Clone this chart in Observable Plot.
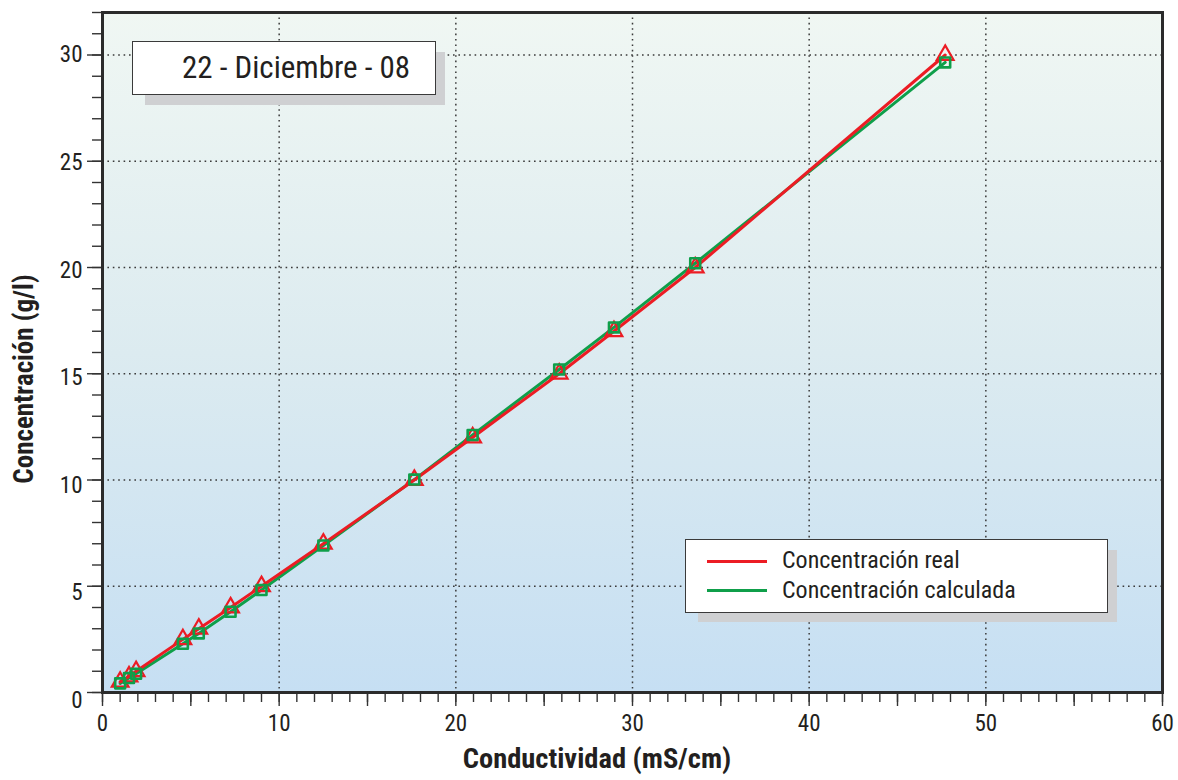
<!DOCTYPE html>
<html>
<head>
<meta charset="utf-8">
<script src="https://cdn.jsdelivr.net/npm/d3@7"></script>
<script src="https://cdn.jsdelivr.net/npm/@observablehq/plot@0.6"></script>
<style>
  html, body { margin: 0; padding: 0; background: #fff; }
  #wrap { position: relative; width: 1178px; height: 780px; font-family: 'Liberation Sans Narrow', 'Arial Narrow', 'Roboto Condensed', 'Liberation Sans', Arial, sans-serif; color: #231f20; }
  .shadow { position: absolute; background: #cfd0d2; }
  .box { position: absolute; background: #fff; border: 1.5px solid #3a3a3a; box-sizing: border-box; }
  .lbl { position: absolute; white-space: nowrap; }
</style>
</head>
<body>
<div id="wrap"></div>
<script>
// ---- data ----
const conductividad = [1.0, 1.5, 1.9, 4.55, 5.45, 7.25, 9.0, 12.5, 17.65, 20.95, 25.85, 28.95, 33.55, 47.7];
const concentracionReal = [0.5, 0.75, 1.0, 2.5, 3.0, 4.0, 5.0, 7.0, 10.0, 12.0, 15.0, 17.0, 20.0, 30.0];
const concentracionCalculada = [0.43, 0.68, 0.88, 2.29, 2.78, 3.8, 4.82, 6.92, 10.02, 12.12, 15.2, 17.18, 20.2, 29.65];
const xTickLabels = [0, 10, 20, 30, 40, 50, 60];
const yTickLabels = [0, 5, 10, 15, 20, 25, 30];
const seriesNames = ["Concentración real", "Concentración calculada"];
const dateLabel = "22 - Diciembre - 08";
const xTitle = "Conductividad (mS/cm)";
const yTitle = "Concentración (g/l)";

const real = conductividad.map((x, i) => ({x, y: concentracionReal[i]}));
const calc = conductividad.map((x, i) => ({x, y: concentracionCalculada[i]}));

const RED = "#ec1c24";
const GREEN = "#0f9f4a";
const FONT = "'Liberation Sans Narrow', 'Arial Narrow', 'Roboto Condensed', 'Liberation Sans', Arial, sans-serif";
const axisStyle = {stroke: "#333", strokeWidth: 1.4, label: null};

const plot = Plot.plot({
  width: 1178,
  height: 780,
  marginLeft: 102,
  marginRight: 16,
  marginTop: 12,
  marginBottom: 88,
  style: {fontFamily: FONT, color: "#231f20", background: "transparent"},
  x: {domain: [0, 60]},
  y: {domain: [0, 32]},
  marks: [
    Plot.frame({fill: "url(#bgGrad)"}),
    Plot.gridX({ticks: xTickLabels.filter(d => d > 0 && d < 60), stroke: "#3a3a3a", strokeOpacity: 1, strokeWidth: 1.5, strokeDasharray: "1.6,3.8"}),
    Plot.gridY({ticks: yTickLabels.filter(d => d > 0), stroke: "#3a3a3a", strokeOpacity: 1, strokeWidth: 1.5, strokeDasharray: "1.6,3.8"}),
    Plot.axisX({ticks: d3.range(0, 61, 1), tickSize: 10, tickFormat: () => "", ...axisStyle}),
    Plot.axisX({ticks: d3.range(0, 61, 5), tickSize: 14, tickPadding: 8, tickFormat: d => (xTickLabels.includes(d) ? String(d) : ""), fontSize: 23, ...axisStyle}),
    Plot.axisY({ticks: d3.range(0, 33, 1), tickSize: 10, tickFormat: () => "", ...axisStyle}),
    Plot.axisY({ticks: d3.range(0, 31, 5), tickSize: 15, tickFormat: () => "", ...axisStyle}),
    // tick labels: the reference sets them slightly lower near the origin
    ...yTickLabels.map(v => Plot.axisY({ticks: [v], tickSize: 0, tickPadding: 20, dy: 8 * (1 - v / 30), fontSize: 23, tickFormat: d => String(d), ...axisStyle})),
    Plot.line(calc, {x: "x", y: "y", stroke: GREEN, strokeWidth: 3}),
    Plot.line(real, {x: "x", y: "y", stroke: RED, strokeWidth: 3}),
    Plot.dot(real, {x: "x", y: "y", symbol: "triangle", r: 6.2, stroke: RED, strokeWidth: 2.2, fill: "none"}),
    Plot.dot(calc, {x: "x", y: "y", symbol: "square", r: 5.6, stroke: GREEN, strokeWidth: 2.6, fill: "none", strokeLinejoin: "round"}),
    Plot.frame({stroke: "#2b2b2b", strokeWidth: 3})
  ]
});

// gradient definition for the plot background
const svgNS = "http://www.w3.org/2000/svg";
const defs = document.createElementNS(svgNS, "defs");
defs.innerHTML = `<linearGradient id="bgGrad" x1="0" y1="0" x2="0" y2="1">
  <stop offset="0" stop-color="#f0f7f3"/>
  <stop offset="0.5" stop-color="#dcebf0"/>
  <stop offset="1" stop-color="#c6dff3"/>
</linearGradient>`;
plot.insertBefore(defs, plot.firstChild);

const wrap = document.getElementById("wrap");
wrap.appendChild(plot);
plot.style.position = "absolute";
plot.style.left = "0";
plot.style.top = "0";

function add(html) { wrap.insertAdjacentHTML("beforeend", html); }

// Date box
add(`<div class="shadow" style="left:145px;top:52px;width:300px;height:53px"></div>`);
add(`<div class="box" style="left:132px;top:41px;width:304px;height:54px"></div>`);
add(`<div class="lbl" style="left:182px;top:50px;font-size:31px;line-height:36px">${dateLabel}</div>`);

// Legend
add(`<div class="shadow" style="left:698px;top:550px;width:419px;height:72px"></div>`);
add(`<div class="box" style="left:685px;top:539px;width:423px;height:74px"></div>`);
add(`<div style="position:absolute;left:707px;top:560px;width:60px;height:3px;background:${RED}"></div>`);
add(`<div style="position:absolute;left:707px;top:589px;width:60px;height:3px;background:${GREEN}"></div>`);
add(`<div class="lbl" style="left:782px;top:547px;font-size:24px;line-height:26px">${seriesNames[0]}</div>`);
add(`<div class="lbl" style="left:782px;top:577px;font-size:24px;line-height:26px">${seriesNames[1]}</div>`);

// Axis titles
add(`<div class="lbl" style="left:0;width:1194px;text-align:center;top:744px;font-size:28.5px;font-weight:bold;line-height:30px">${xTitle}</div>`);
add(`<div class="lbl" style="left:24px;top:379px;font-size:27px;font-weight:bold;line-height:28px;transform:translate(-50%,-50%) rotate(-90deg)">${yTitle}</div>`);
</script>
</body>
</html>
